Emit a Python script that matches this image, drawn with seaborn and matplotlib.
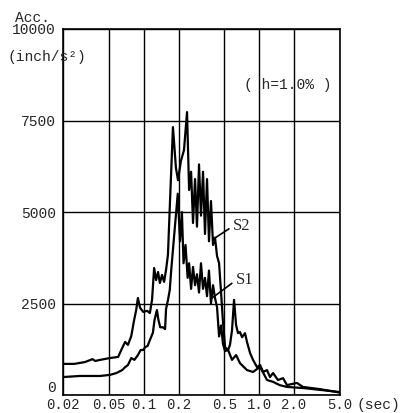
import numpy as np
import pandas as pd
import matplotlib
matplotlib.use("Agg")
import matplotlib.pyplot as plt
from matplotlib.ticker import NullLocator, FixedLocator
import seaborn as sns

# Response spectra: period (sec) vs acceleration (inch/s^2)
s2_period = [0.020, 0.025, 0.031, 0.036, 0.038, 0.042, 0.051, 0.060, 0.065, 0.069,
             0.073, 0.078, 0.082, 0.086, 0.089, 0.093, 0.099, 0.107, 0.113, 0.118,
             0.123, 0.128, 0.133, 0.138, 0.144, 0.150, 0.156, 0.162, 0.169, 0.179,
             0.190, 0.198, 0.210, 0.223, 0.237, 0.247, 0.257, 0.267, 0.278, 0.289,
             0.301, 0.313, 0.326, 0.339, 0.353, 0.367, 0.382, 0.398, 0.414, 0.431,
             0.449, 0.467, 0.485, 0.506, 0.537, 0.558, 0.581, 0.605, 0.630, 0.655,
             0.681, 0.710, 0.753, 0.783, 0.832, 0.883, 0.957, 1.016, 1.079, 1.167,
             1.239, 1.316, 1.452, 1.607, 1.738, 2.12, 2.39, 3.36, 4.71, 5.0]
s2_acc = [850, 850, 900, 980, 930, 960, 1010, 1040, 1280, 1450,
          1370, 1610, 2000, 2320, 2650, 2380, 2270, 2300, 2240, 2600,
          3470, 3140, 3360, 3060, 3280, 3090, 3420, 3830, 5330, 7320,
          6200, 5870, 6400, 6690, 7730, 5600, 6100, 4700, 5900, 4600,
          6300, 4900, 6100, 4400, 5900, 4200, 5300, 4100, 4300, 3800,
          3600, 2800, 2000, 1300, 1230, 1370, 1770, 2600, 1910, 1690,
          1720, 1580, 1690, 1450, 1150, 960, 760, 820, 630, 680,
          490, 600, 410, 460, 270, 330, 220, 160, 80, 60]

s1_period = [0.020, 0.028, 0.042, 0.051, 0.058, 0.065, 0.069, 0.073, 0.078, 0.083,
             0.089, 0.094, 0.099, 0.103, 0.108, 0.113, 0.120, 0.124, 0.130, 0.134,
             0.139, 0.147, 0.153, 0.156, 0.162, 0.168, 0.173, 0.185, 0.197, 0.206,
             0.214, 0.221, 0.230, 0.240, 0.247, 0.257, 0.267, 0.278, 0.289, 0.301,
             0.313, 0.326, 0.339, 0.353, 0.367, 0.382, 0.398, 0.414, 0.431, 0.449,
             0.467, 0.485, 0.506, 0.537, 0.581, 0.630, 0.681, 0.783, 0.883, 1.016,
             1.167, 1.316, 1.50, 1.74, 2.40, 3.36, 5.0]
s1_acc = [490, 520, 520, 550, 600, 680, 760, 820, 1010, 960,
          1090, 1230, 1230, 1310, 1340, 1500, 1700, 2050, 2320, 2050,
          1850, 1850, 1800, 2350, 2590, 2870, 3420, 4500, 5500, 4200,
          5000, 3600, 4100, 3200, 3600, 2900, 3500, 3000, 3300, 2800,
          3600, 2900, 3200, 2700, 3400, 2500, 3000, 2650, 2400, 1600,
          1900, 1400, 1200, 1230, 960, 1090, 870, 680, 630, 770,
          410, 360, 270, 220, 190, 140, 80]

x_ticks = [0.02, 0.05, 0.1, 0.2, 0.5, 1.0, 2.0, 5.0]
x_tick_labels = ["0.02", "0.05", "0.1", "0.2", "0.5", "1.0", "2.0", "5.0"]
y_ticks = [0, 2500, 5000, 7500, 10000]
y_tick_labels = ["0", "2500", "5000", "7500", "10000"]

df = pd.concat([
    pd.DataFrame({"Period": s1_period, "Acc": s1_acc, "Series": "S1"}),
    pd.DataFrame({"Period": s2_period, "Acc": s2_acc, "Series": "S2"}),
])

sns.set_style("white")
plt.rcParams["font.family"] = ["Liberation Mono", "DejaVu Sans Mono"]

fig = plt.figure(figsize=(4.06, 4.13), dpi=100)
ax = fig.add_axes([63 / 406, 18 / 413, 277 / 406, 366 / 413])

sns.lineplot(data=df, x="Period", y="Acc", units="Series", estimator=None,
             color="black", lw=1.6, ax=ax, legend=False)

ax.set_xscale("log")
ax.set_xlim(0.02, 5.0)
ax.set_ylim(0, 10000)
ax.xaxis.set_major_locator(FixedLocator(x_ticks))
ax.xaxis.set_minor_locator(NullLocator())
ax.set_xticklabels(x_tick_labels, fontsize=10)
ax.set_yticks(y_ticks)
ax.set_yticklabels(y_tick_labels, fontsize=10.5)
ax.tick_params(axis="y", length=0, pad=5)
ax.tick_params(axis="x", length=0, pad=2)
ax.get_yticklabels()[0].set_verticalalignment("bottom")
ax.set_xlabel("")
ax.set_ylabel("")
ax.grid(True, color="black", lw=1.0)
for sp in ax.spines.values():
    sp.set_color("black")
    sp.set_linewidth(1.2)

# Curve labels with leader lines
ax.annotate("S2", xy=(0.414, 4290), xytext=(0.71, 4620), fontsize=12,
            family="Liberation Serif", ha="center", va="center",
            arrowprops=dict(arrowstyle="-", lw=1.2, color="black",
                            relpos=(0, 0.5), shrinkA=1, shrinkB=0))
ax.annotate("S1", xy=(0.39, 2650), xytext=(0.753, 3140), fontsize=12,
            family="Liberation Serif", ha="center", va="center",
            arrowprops=dict(arrowstyle="-", lw=1.2, color="black",
                            relpos=(0, 0.5), shrinkA=1, shrinkB=0))

ax.text(0.812, 0.847, "( h=1.0% )", transform=ax.transAxes,
        ha="center", va="center", fontsize=10.5)

fig.text(15 / 406, 1 - 18 / 413, "Acc.", ha="left", va="center", fontsize=10.5)
fig.text(7 / 406, 1 - 57 / 413, "(inch/s²)", ha="left", va="center", fontsize=10.5)
fig.text(357 / 406, 1 - 405 / 413, "(sec)", ha="left", va="center", fontsize=10.5)

fig.savefig("out.png", dpi=100)
